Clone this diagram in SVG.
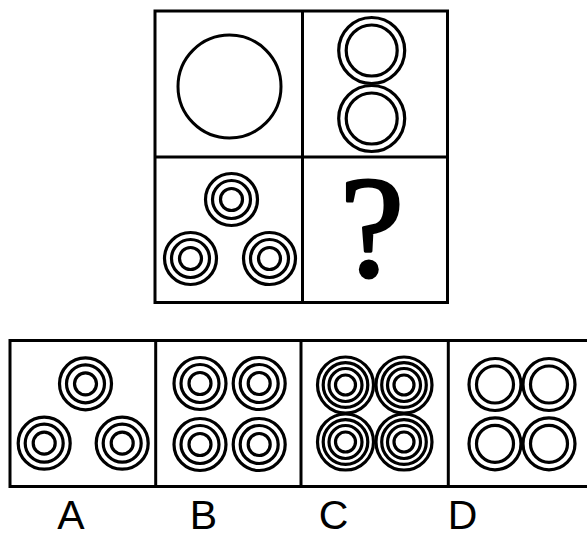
<svg xmlns="http://www.w3.org/2000/svg" width="587" height="539" viewBox="0 0 587 539">
<style>
.frame{fill:none;stroke:#000;stroke-width:3}
.c{fill:none;stroke:#000;stroke-width:3.2}
.t{font-family:"Liberation Sans",Arial,sans-serif;font-size:41px;fill:#000;text-anchor:middle}
</style>
<defs>
<g id="r2"><circle r="26" class="c"/><circle r="18.5" class="c"/></g>
<g id="r3"><circle r="26" class="c"/><circle r="19" class="c"/><circle r="11" class="c"/></g>
<g id="r4"><circle r="28" class="c"/><circle r="22.3" class="c"/><circle r="16.5" class="c"/><circle r="10" class="c"/></g>
</defs>
<rect width="587" height="539" fill="#fff"/>
<g id="grid">
<rect x="155" y="11" width="292.5" height="291.5" class="frame"/>
<line x1="302.5" y1="11" x2="302.5" y2="302.5" class="frame"/>
<line x1="155" y1="157" x2="447.5" y2="157" class="frame"/>
</g>
<g id="cell1"><circle cx="229.5" cy="86.5" r="51.5" fill="none" stroke="#000" stroke-width="3"/></g>
<g id="cell2">
<circle cx="371.7" cy="50.5" r="33" class="c"/><circle cx="371.7" cy="50.5" r="25.5" class="c"/>
<circle cx="371.7" cy="118.5" r="33" class="c"/><circle cx="371.7" cy="118.5" r="25.5" class="c"/>
</g>
<g id="cell3">
<use href="#r3" x="231.5" y="199.5"/>
<use href="#r3" x="190.5" y="258.5"/>
<use href="#r3" x="269.5" y="258.5"/>
</g>
<g id="cell4"><text x="372" y="276" font-family="Liberation Serif,serif" font-size="144" stroke="#000" stroke-width="3" stroke-linejoin="round" text-anchor="middle">?</text></g>
<g id="options">
<rect x="10" y="340.5" width="586" height="146" class="frame"/>
<line x1="155.7" y1="340.5" x2="155.7" y2="486.5" class="frame"/>
<line x1="301" y1="340.5" x2="301" y2="486.5" class="frame"/>
<line x1="448.3" y1="340.5" x2="448.3" y2="486.5" class="frame"/>
</g>
<g id="optA">
<use href="#r3" x="85.5" y="383.8"/>
<use href="#r3" x="44.2" y="443.2"/>
<use href="#r3" x="122.2" y="443.2"/>
</g>
<g id="optB">
<use href="#r3" x="200" y="383.5"/>
<use href="#r3" x="259.2" y="383.5"/>
<use href="#r3" x="200" y="444.5"/>
<use href="#r3" x="259.2" y="444.5"/>
</g>
<g id="optC">
<use href="#r4" x="345.5" y="385"/>
<use href="#r4" x="404" y="385"/>
<use href="#r4" x="345.5" y="442"/>
<use href="#r4" x="404" y="442"/>
</g>
<g id="optD">
<use href="#r2" x="495" y="384.5"/>
<use href="#r2" x="549" y="384.5"/>
<use href="#r2" x="495" y="443.8"/>
<use href="#r2" x="549" y="443.8"/>
</g>
<g id="labels">
<text class="t" x="71" y="529">A</text>
<text class="t" x="203.5" y="529">B</text>
<text class="t" x="333.5" y="529">C</text>
<text class="t" x="462.5" y="529">D</text>
</g>
</svg>
